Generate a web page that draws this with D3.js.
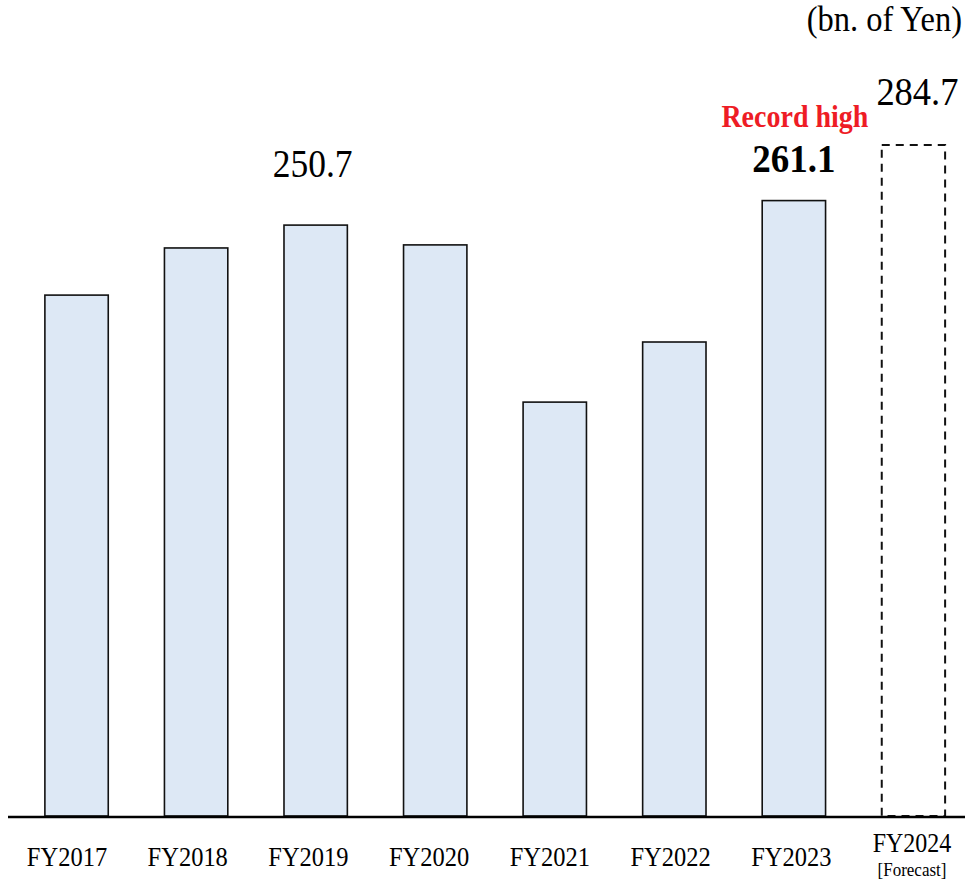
<!DOCTYPE html>
<html>
<head>
<meta charset="utf-8">
<script src="https://cdn.jsdelivr.net/npm/d3@7"></script>
<style>
  html, body { margin: 0; padding: 0; background: #fff; }
  svg { display: block; }
  text { font-family: "Liberation Serif", "Times New Roman", serif; }
</style>
</head>
<body>
<svg id="chart" width="965" height="881"></svg>
<script>
// Net figures per fiscal year (bn. of Yen); last year is a forecast
const categories = ["FY2017", "FY2018", "FY2019", "FY2020", "FY2021", "FY2022", "FY2023", "FY2024"];
const values = [221.0, 241.0, 250.7, 242.3, 175.6, 201.1, 261.1, 284.7];
const forecastFlags = [false, false, false, false, false, false, false, true];
const labelledValues = { "FY2019": "250.7", "FY2023": "261.1", "FY2024": "284.7" };

const svg = d3.select("#chart");
const baseY = 816;
const stretch = 1.1; // text is drawn slightly taller than wide

const x = d3.scaleBand()
  .domain(categories)
  .range([15, 975])
  .paddingInner(0.47)
  .paddingOuter(0.25);

// category labels sit on their own, slightly wider grid
const xLabel = d3.scalePoint()
  .domain(categories)
  .range([67, 912]);

const y = d3.scaleLinear()
  .domain([0, 284.7])
  .range([baseY, baseY - 284.7 * 2.357]);

const data = categories.map((c, i) => ({ cat: c, value: values[i], forecast: forecastFlags[i] }));

// helper: text with vertical stretch around its baseline
function addText(px, py, str, size, opts = {}) {
  const t = svg.append("text")
    .attr("transform", `translate(${px},${py}) scale(1,${stretch})`)
    .attr("text-anchor", opts.anchor || "middle")
    .attr("font-size", size)
    .attr("fill", opts.fill || "#000")
    .text(str);
  if (opts.bold) t.attr("font-weight", "bold");
  return t;
}

// Bars
svg.append("g").selectAll("rect")
  .data(data)
  .join("rect")
  .attr("x", d => x(d.cat))
  .attr("y", d => y(d.value))
  .attr("width", x.bandwidth())
  .attr("height", d => baseY - y(d.value))
  .attr("fill", d => d.forecast ? "none" : "#dde8f5")
  .attr("stroke", "#111")
  .attr("stroke-width", d => d.forecast ? 2 : 1.6)
  .attr("stroke-dasharray", d => d.forecast ? "8,6" : null);

// Baseline
svg.append("line")
  .attr("x1", 8).attr("x2", 965)
  .attr("y1", baseY + 1).attr("y2", baseY + 1)
  .attr("stroke", "#000").attr("stroke-width", 2.5);

// Category labels
data.forEach(d => {
  const cx = xLabel(d.cat);
  if (d.forecast) {
    addText(cx, 852, d.cat, 24);
    addText(cx, 876, "[Forecast]", 17);
  } else {
    addText(cx, 866, d.cat, 24.5);
  }
});

// Value labels
addText(x("FY2019") + x.bandwidth() / 2 - 3, 177, labelledValues["FY2019"], 35.5);
addText(x("FY2023") + x.bandwidth() / 2, 172, labelledValues["FY2023"], 37, { bold: true });
addText(x("FY2023") + x.bandwidth() / 2 + 1, 127, "Record high", 28, { bold: true, fill: "#ee1c25" });
addText(x("FY2024") + x.bandwidth() / 2 + 4, 105, labelledValues["FY2024"], 36.5);

// Unit note
addText(962, 31, "(bn. of Yen)", 32.5, { anchor: "end" });
</script>
</body>
</html>
